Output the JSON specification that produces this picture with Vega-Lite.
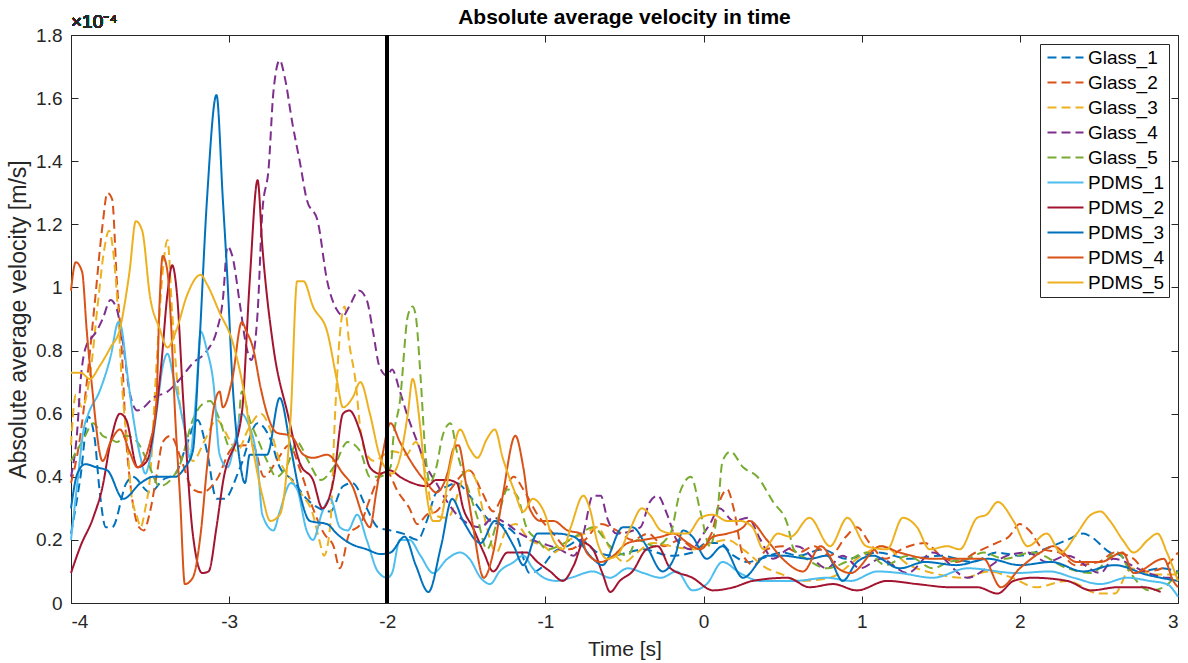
{
"$schema":"https://vega.github.io/schema/vega-lite/v6.json",
"width":1107,"height":568,
"autosize":{"type":"none"},
"padding":{"left":71,"top":35,"right":10,"bottom":60},
"background":"white",
"title":{"text":"Absolute average velocity in time","fontSize":21,"fontWeight":"bold","color":"#000000","font":"Liberation Sans","offset":8,"dy":23},
"config":{"font":"Liberation Sans","view":{"stroke":"#262626","strokeWidth":1},
"axis":{"grid":false,"domainColor":"#262626","domainWidth":1,"tickColor":"#262626","tickWidth":1,"tickSize":-7,"labelColor":"#262626","labelFontSize":19,"labelFont":"Liberation Sans","titleFont":"Liberation Sans","titleFontSize":21,"titleFontWeight":"normal","titleColor":"#262626"}},
"datasets":{"d":[
{"series":"Glass_1","t":-4.0,"v":0.22},{"series":"Glass_1","t":-3.94,"v":0.40},{"series":"Glass_1","t":-3.89,"v":0.59},{"series":"Glass_1","t":-3.85,"v":0.52},{"series":"Glass_1","t":-3.82,"v":0.36},{"series":"Glass_1","t":-3.78,"v":0.24},{"series":"Glass_1","t":-3.74,"v":0.24},{"series":"Glass_1","t":-3.65,"v":0.38},{"series":"Glass_1","t":-3.61,"v":0.40},{"series":"Glass_1","t":-3.5,"v":0.35},{"series":"Glass_1","t":-3.42,"v":0.39},{"series":"Glass_1","t":-3.34,"v":0.41},{"series":"Glass_1","t":-3.27,"v":0.50},{"series":"Glass_1","t":-3.2,"v":0.58},{"series":"Glass_1","t":-3.14,"v":0.48},{"series":"Glass_1","t":-3.08,"v":0.33},{"series":"Glass_1","t":-3.03,"v":0.33},{"series":"Glass_1","t":-2.93,"v":0.43},{"series":"Glass_1","t":-2.82,"v":0.57},{"series":"Glass_1","t":-2.74,"v":0.52},{"series":"Glass_1","t":-2.68,"v":0.43},{"series":"Glass_1","t":-2.6,"v":0.39},{"series":"Glass_1","t":-2.51,"v":0.33},{"series":"Glass_1","t":-2.43,"v":0.30},{"series":"Glass_1","t":-2.36,"v":0.29},{"series":"Glass_1","t":-2.28,"v":0.37},{"series":"Glass_1","t":-2.22,"v":0.38},{"series":"Glass_1","t":-2.13,"v":0.30},{"series":"Glass_1","t":-2.06,"v":0.24},{"series":"Glass_1","t":-1.98,"v":0.23},{"series":"Glass_1","t":-1.9,"v":0.22},{"series":"Glass_1","t":-1.81,"v":0.20},{"series":"Glass_1","t":-1.75,"v":0.26},{"series":"Glass_1","t":-1.69,"v":0.35},{"series":"Glass_1","t":-1.62,"v":0.37},{"series":"Glass_1","t":-1.56,"v":0.38},{"series":"Glass_1","t":-1.48,"v":0.34},{"series":"Glass_1","t":-1.35,"v":0.26},{"series":"Glass_1","t":-1.24,"v":0.24},{"series":"Glass_1","t":-1.18,"v":0.21},{"series":"Glass_1","t":-1.1,"v":0.095},{"series":"Glass_1","t":-1.03,"v":0.11},{"series":"Glass_1","t":-0.95,"v":0.16},{"series":"Glass_1","t":-0.86,"v":0.18},{"series":"Glass_1","t":-0.78,"v":0.20},{"series":"Glass_1","t":-0.67,"v":0.16},{"series":"Glass_1","t":-0.57,"v":0.15},{"series":"Glass_1","t":-0.48,"v":0.16},{"series":"Glass_1","t":-0.38,"v":0.17},{"series":"Glass_1","t":-0.21,"v":0.15},{"series":"Glass_1","t":-0.07,"v":0.16},{"series":"Glass_1","t":0.02,"v":0.19},{"series":"Glass_1","t":0.1,"v":0.19},{"series":"Glass_1","t":0.19,"v":0.15},{"series":"Glass_1","t":0.28,"v":0.13},{"series":"Glass_1","t":0.36,"v":0.14},{"series":"Glass_1","t":0.5,"v":0.16},{"series":"Glass_1","t":0.6,"v":0.15},{"series":"Glass_1","t":0.75,"v":0.17},{"series":"Glass_1","t":0.9,"v":0.14},{"series":"Glass_1","t":1.1,"v":0.16},{"series":"Glass_1","t":1.3,"v":0.14},{"series":"Glass_1","t":1.5,"v":0.15},{"series":"Glass_1","t":1.7,"v":0.13},{"series":"Glass_1","t":1.85,"v":0.16},{"series":"Glass_1","t":2.0,"v":0.15},{"series":"Glass_1","t":2.15,"v":0.17},{"series":"Glass_1","t":2.3,"v":0.20},{"series":"Glass_1","t":2.4,"v":0.22},{"series":"Glass_1","t":2.45,"v":0.21},{"series":"Glass_1","t":2.57,"v":0.16},{"series":"Glass_1","t":2.64,"v":0.15},{"series":"Glass_1","t":2.72,"v":0.095},{"series":"Glass_1","t":2.89,"v":0.11},{"series":"Glass_1","t":3.0,"v":0.10},
{"series":"Glass_2","t":-4.0,"v":0.38},{"series":"Glass_2","t":-3.95,"v":0.50},{"series":"Glass_2","t":-3.9,"v":0.70},{"series":"Glass_2","t":-3.85,"v":0.95},{"series":"Glass_2","t":-3.8,"v":1.20},{"series":"Glass_2","t":-3.77,"v":1.30},{"series":"Glass_2","t":-3.74,"v":1.28},{"series":"Glass_2","t":-3.71,"v":1.02},{"series":"Glass_2","t":-3.68,"v":0.81},{"series":"Glass_2","t":-3.65,"v":0.51},{"series":"Glass_2","t":-3.63,"v":0.40},{"series":"Glass_2","t":-3.57,"v":0.24},{"series":"Glass_2","t":-3.54,"v":0.23},{"series":"Glass_2","t":-3.5,"v":0.29},{"series":"Glass_2","t":-3.46,"v":0.40},{"series":"Glass_2","t":-3.42,"v":0.51},{"series":"Glass_2","t":-3.37,"v":0.53},{"series":"Glass_2","t":-3.3,"v":0.45},{"series":"Glass_2","t":-3.23,"v":0.36},{"series":"Glass_2","t":-3.17,"v":0.35},{"series":"Glass_2","t":-3.08,"v":0.39},{"series":"Glass_2","t":-2.98,"v":0.49},{"series":"Glass_2","t":-2.9,"v":0.50},{"series":"Glass_2","t":-2.85,"v":0.50},{"series":"Glass_2","t":-2.78,"v":0.40},{"series":"Glass_2","t":-2.7,"v":0.45},{"series":"Glass_2","t":-2.62,"v":0.50},{"series":"Glass_2","t":-2.55,"v":0.42},{"series":"Glass_2","t":-2.47,"v":0.30},{"series":"Glass_2","t":-2.4,"v":0.22},{"series":"Glass_2","t":-2.34,"v":0.18},{"series":"Glass_2","t":-2.3,"v":0.11},{"series":"Glass_2","t":-2.24,"v":0.22},{"series":"Glass_2","t":-2.17,"v":0.25},{"series":"Glass_2","t":-2.11,"v":0.33},{"series":"Glass_2","t":-2.05,"v":0.40},{"series":"Glass_2","t":-2.01,"v":0.42},{"series":"Glass_2","t":-1.93,"v":0.35},{"series":"Glass_2","t":-1.86,"v":0.30},{"series":"Glass_2","t":-1.81,"v":0.25},{"series":"Glass_2","t":-1.75,"v":0.28},{"series":"Glass_2","t":-1.69,"v":0.29},{"series":"Glass_2","t":-1.6,"v":0.36},{"series":"Glass_2","t":-1.48,"v":0.42},{"series":"Glass_2","t":-1.4,"v":0.35},{"series":"Glass_2","t":-1.33,"v":0.29},{"series":"Glass_2","t":-1.28,"v":0.33},{"series":"Glass_2","t":-1.2,"v":0.40},{"series":"Glass_2","t":-1.14,"v":0.36},{"series":"Glass_2","t":-1.05,"v":0.28},{"series":"Glass_2","t":-0.95,"v":0.22},{"series":"Glass_2","t":-0.85,"v":0.17},{"series":"Glass_2","t":-0.75,"v":0.20},{"series":"Glass_2","t":-0.65,"v":0.25},{"series":"Glass_2","t":-0.55,"v":0.23},{"series":"Glass_2","t":-0.45,"v":0.20},{"series":"Glass_2","t":-0.35,"v":0.22},{"series":"Glass_2","t":-0.25,"v":0.18},{"series":"Glass_2","t":-0.15,"v":0.20},{"series":"Glass_2","t":-0.05,"v":0.17},{"series":"Glass_2","t":0.05,"v":0.22},{"series":"Glass_2","t":0.1,"v":0.32},{"series":"Glass_2","t":0.15,"v":0.36},{"series":"Glass_2","t":0.19,"v":0.30},{"series":"Glass_2","t":0.25,"v":0.15},{"series":"Glass_2","t":0.32,"v":0.12},{"series":"Glass_2","t":0.4,"v":0.17},{"series":"Glass_2","t":0.5,"v":0.18},{"series":"Glass_2","t":0.6,"v":0.16},{"series":"Glass_2","t":0.7,"v":0.18},{"series":"Glass_2","t":0.8,"v":0.15},{"series":"Glass_2","t":0.9,"v":0.21},{"series":"Glass_2","t":0.97,"v":0.24},{"series":"Glass_2","t":1.05,"v":0.19},{"series":"Glass_2","t":1.15,"v":0.14},{"series":"Glass_2","t":1.25,"v":0.17},{"series":"Glass_2","t":1.4,"v":0.19},{"series":"Glass_2","t":1.5,"v":0.15},{"series":"Glass_2","t":1.6,"v":0.13},{"series":"Glass_2","t":1.72,"v":0.16},{"series":"Glass_2","t":1.85,"v":0.19},{"series":"Glass_2","t":1.93,"v":0.21},{"series":"Glass_2","t":2.0,"v":0.25},{"series":"Glass_2","t":2.06,"v":0.23},{"series":"Glass_2","t":2.15,"v":0.17},{"series":"Glass_2","t":2.25,"v":0.16},{"series":"Glass_2","t":2.35,"v":0.12},{"series":"Glass_2","t":2.5,"v":0.13},{"series":"Glass_2","t":2.6,"v":0.16},{"series":"Glass_2","t":2.72,"v":0.14},{"series":"Glass_2","t":2.8,"v":0.10},{"series":"Glass_2","t":2.9,"v":0.11},{"series":"Glass_2","t":3.0,"v":0.16},
{"series":"Glass_3","t":-4.0,"v":0.50},{"series":"Glass_3","t":-3.97,"v":0.66},{"series":"Glass_3","t":-3.93,"v":0.62},{"series":"Glass_3","t":-3.88,"v":0.72},{"series":"Glass_3","t":-3.83,"v":0.95},{"series":"Glass_3","t":-3.79,"v":1.12},{"series":"Glass_3","t":-3.76,"v":1.18},{"series":"Glass_3","t":-3.73,"v":1.10},{"series":"Glass_3","t":-3.7,"v":0.90},{"series":"Glass_3","t":-3.68,"v":0.71},{"series":"Glass_3","t":-3.64,"v":0.48},{"series":"Glass_3","t":-3.62,"v":0.35},{"series":"Glass_3","t":-3.58,"v":0.27},{"series":"Glass_3","t":-3.56,"v":0.24},{"series":"Glass_3","t":-3.53,"v":0.30},{"series":"Glass_3","t":-3.5,"v":0.40},{"series":"Glass_3","t":-3.46,"v":0.75},{"series":"Glass_3","t":-3.42,"v":1.05},{"series":"Glass_3","t":-3.39,"v":1.15},{"series":"Glass_3","t":-3.36,"v":0.92},{"series":"Glass_3","t":-3.33,"v":0.71},{"series":"Glass_3","t":-3.28,"v":0.55},{"series":"Glass_3","t":-3.23,"v":0.45},{"series":"Glass_3","t":-3.15,"v":0.52},{"series":"Glass_3","t":-3.08,"v":0.58},{"series":"Glass_3","t":-3.0,"v":0.52},{"series":"Glass_3","t":-2.95,"v":0.48},{"series":"Glass_3","t":-2.88,"v":0.55},{"series":"Glass_3","t":-2.8,"v":0.60},{"series":"Glass_3","t":-2.74,"v":0.55},{"series":"Glass_3","t":-2.68,"v":0.45},{"series":"Glass_3","t":-2.62,"v":0.40},{"series":"Glass_3","t":-2.55,"v":0.35},{"series":"Glass_3","t":-2.47,"v":0.28},{"series":"Glass_3","t":-2.43,"v":0.20},{"series":"Glass_3","t":-2.4,"v":0.15},{"series":"Glass_3","t":-2.36,"v":0.25},{"series":"Glass_3","t":-2.33,"v":0.60},{"series":"Glass_3","t":-2.3,"v":0.85},{"series":"Glass_3","t":-2.27,"v":0.94},{"series":"Glass_3","t":-2.24,"v":0.82},{"series":"Glass_3","t":-2.2,"v":0.70},{"series":"Glass_3","t":-2.17,"v":0.55},{"series":"Glass_3","t":-2.13,"v":0.47},{"series":"Glass_3","t":-2.08,"v":0.45},{"series":"Glass_3","t":-2.02,"v":0.47},{"series":"Glass_3","t":-1.96,"v":0.48},{"series":"Glass_3","t":-1.88,"v":0.47},{"series":"Glass_3","t":-1.82,"v":0.51},{"series":"Glass_3","t":-1.75,"v":0.39},{"series":"Glass_3","t":-1.71,"v":0.28},{"series":"Glass_3","t":-1.62,"v":0.27},{"series":"Glass_3","t":-1.49,"v":0.42},{"series":"Glass_3","t":-1.44,"v":0.39},{"series":"Glass_3","t":-1.39,"v":0.28},{"series":"Glass_3","t":-1.31,"v":0.16},{"series":"Glass_3","t":-1.25,"v":0.23},{"series":"Glass_3","t":-1.19,"v":0.25},{"series":"Glass_3","t":-1.1,"v":0.20},{"series":"Glass_3","t":-1.01,"v":0.18},{"series":"Glass_3","t":-0.95,"v":0.16},{"series":"Glass_3","t":-0.85,"v":0.20},{"series":"Glass_3","t":-0.75,"v":0.22},{"series":"Glass_3","t":-0.67,"v":0.24},{"series":"Glass_3","t":-0.6,"v":0.18},{"series":"Glass_3","t":-0.5,"v":0.13},{"series":"Glass_3","t":-0.42,"v":0.16},{"series":"Glass_3","t":-0.32,"v":0.19},{"series":"Glass_3","t":-0.2,"v":0.18},{"series":"Glass_3","t":-0.07,"v":0.17},{"series":"Glass_3","t":0.05,"v":0.19},{"series":"Glass_3","t":0.15,"v":0.20},{"series":"Glass_3","t":0.25,"v":0.17},{"series":"Glass_3","t":0.4,"v":0.11},{"series":"Glass_3","t":0.5,"v":0.09},{"series":"Glass_3","t":0.6,"v":0.07},{"series":"Glass_3","t":0.8,"v":0.08},{"series":"Glass_3","t":1.0,"v":0.15},{"series":"Glass_3","t":1.13,"v":0.18},{"series":"Glass_3","t":1.3,"v":0.12},{"series":"Glass_3","t":1.45,"v":0.095},{"series":"Glass_3","t":1.65,"v":0.08},{"series":"Glass_3","t":1.8,"v":0.10},{"series":"Glass_3","t":1.95,"v":0.08},{"series":"Glass_3","t":2.1,"v":0.05},{"series":"Glass_3","t":2.3,"v":0.07},{"series":"Glass_3","t":2.5,"v":0.03},{"series":"Glass_3","t":2.6,"v":0.03},{"series":"Glass_3","t":2.7,"v":0.11},{"series":"Glass_3","t":2.85,"v":0.09},{"series":"Glass_3","t":3.0,"v":0.09},
{"series":"Glass_4","t":-4.0,"v":0.40},{"series":"Glass_4","t":-3.96,"v":0.55},{"series":"Glass_4","t":-3.94,"v":0.70},{"series":"Glass_4","t":-3.9,"v":0.82},{"series":"Glass_4","t":-3.87,"v":0.84},{"series":"Glass_4","t":-3.84,"v":0.86},{"series":"Glass_4","t":-3.8,"v":0.90},{"series":"Glass_4","t":-3.75,"v":0.96},{"series":"Glass_4","t":-3.71,"v":0.93},{"series":"Glass_4","t":-3.67,"v":0.82},{"series":"Glass_4","t":-3.63,"v":0.67},{"series":"Glass_4","t":-3.58,"v":0.61},{"series":"Glass_4","t":-3.54,"v":0.62},{"series":"Glass_4","t":-3.48,"v":0.65},{"series":"Glass_4","t":-3.39,"v":0.67},{"series":"Glass_4","t":-3.31,"v":0.71},{"series":"Glass_4","t":-3.23,"v":0.76},{"series":"Glass_4","t":-3.14,"v":0.80},{"series":"Glass_4","t":-3.08,"v":0.86},{"series":"Glass_4","t":-3.04,"v":0.96},{"series":"Glass_4","t":-3.01,"v":1.13},{"series":"Glass_4","t":-2.98,"v":1.10},{"series":"Glass_4","t":-2.93,"v":0.94},{"series":"Glass_4","t":-2.89,"v":0.81},{"series":"Glass_4","t":-2.86,"v":0.77},{"series":"Glass_4","t":-2.82,"v":0.92},{"series":"Glass_4","t":-2.79,"v":1.24},{"series":"Glass_4","t":-2.75,"v":1.38},{"series":"Glass_4","t":-2.72,"v":1.62},{"series":"Glass_4","t":-2.68,"v":1.72},{"series":"Glass_4","t":-2.65,"v":1.67},{"series":"Glass_4","t":-2.6,"v":1.52},{"series":"Glass_4","t":-2.55,"v":1.39},{"series":"Glass_4","t":-2.51,"v":1.28},{"series":"Glass_4","t":-2.44,"v":1.21},{"series":"Glass_4","t":-2.38,"v":1.02},{"series":"Glass_4","t":-2.32,"v":0.93},{"series":"Glass_4","t":-2.28,"v":0.91},{"series":"Glass_4","t":-2.24,"v":0.94},{"series":"Glass_4","t":-2.18,"v":0.99},{"series":"Glass_4","t":-2.13,"v":0.96},{"series":"Glass_4","t":-2.09,"v":0.86},{"series":"Glass_4","t":-2.05,"v":0.75},{"series":"Glass_4","t":-2.0,"v":0.72},{"series":"Glass_4","t":-1.97,"v":0.74},{"series":"Glass_4","t":-1.92,"v":0.67},{"series":"Glass_4","t":-1.87,"v":0.59},{"series":"Glass_4","t":-1.81,"v":0.51},{"series":"Glass_4","t":-1.75,"v":0.43},{"series":"Glass_4","t":-1.69,"v":0.38},{"series":"Glass_4","t":-1.62,"v":0.32},{"series":"Glass_4","t":-1.56,"v":0.28},{"series":"Glass_4","t":-1.41,"v":0.24},{"series":"Glass_4","t":-1.33,"v":0.27},{"series":"Glass_4","t":-1.24,"v":0.25},{"series":"Glass_4","t":-1.16,"v":0.22},{"series":"Glass_4","t":-1.08,"v":0.20},{"series":"Glass_4","t":-0.91,"v":0.17},{"series":"Glass_4","t":-0.82,"v":0.15},{"series":"Glass_4","t":-0.76,"v":0.22},{"series":"Glass_4","t":-0.7,"v":0.34},{"series":"Glass_4","t":-0.65,"v":0.34},{"series":"Glass_4","t":-0.61,"v":0.27},{"series":"Glass_4","t":-0.55,"v":0.22},{"series":"Glass_4","t":-0.4,"v":0.24},{"series":"Glass_4","t":-0.34,"v":0.32},{"series":"Glass_4","t":-0.29,"v":0.34},{"series":"Glass_4","t":-0.23,"v":0.28},{"series":"Glass_4","t":-0.17,"v":0.20},{"series":"Glass_4","t":-0.08,"v":0.17},{"series":"Glass_4","t":0.0,"v":0.22},{"series":"Glass_4","t":0.04,"v":0.25},{"series":"Glass_4","t":0.1,"v":0.30},{"series":"Glass_4","t":0.19,"v":0.26},{"series":"Glass_4","t":0.28,"v":0.27},{"series":"Glass_4","t":0.36,"v":0.20},{"series":"Glass_4","t":0.44,"v":0.14},{"series":"Glass_4","t":0.53,"v":0.17},{"series":"Glass_4","t":0.59,"v":0.18},{"series":"Glass_4","t":0.78,"v":0.11},{"series":"Glass_4","t":0.88,"v":0.15},{"series":"Glass_4","t":0.99,"v":0.11},{"series":"Glass_4","t":1.12,"v":0.14},{"series":"Glass_4","t":1.29,"v":0.095},{"series":"Glass_4","t":1.45,"v":0.16},{"series":"Glass_4","t":1.67,"v":0.08},{"series":"Glass_4","t":1.79,"v":0.11},{"series":"Glass_4","t":1.92,"v":0.15},{"series":"Glass_4","t":2.05,"v":0.16},{"series":"Glass_4","t":2.17,"v":0.13},{"series":"Glass_4","t":2.3,"v":0.15},{"series":"Glass_4","t":2.51,"v":0.095},{"series":"Glass_4","t":2.59,"v":0.14},{"series":"Glass_4","t":2.81,"v":0.095},{"series":"Glass_4","t":2.93,"v":0.08},{"series":"Glass_4","t":3.0,"v":0.08},
{"series":"Glass_5","t":-4.0,"v":0.45},{"series":"Glass_5","t":-3.92,"v":0.52},{"series":"Glass_5","t":-3.86,"v":0.57},{"series":"Glass_5","t":-3.8,"v":0.53},{"series":"Glass_5","t":-3.75,"v":0.52},{"series":"Glass_5","t":-3.71,"v":0.51},{"series":"Glass_5","t":-3.65,"v":0.53},{"series":"Glass_5","t":-3.58,"v":0.51},{"series":"Glass_5","t":-3.51,"v":0.44},{"series":"Glass_5","t":-3.44,"v":0.37},{"series":"Glass_5","t":-3.37,"v":0.39},{"series":"Glass_5","t":-3.31,"v":0.44},{"series":"Glass_5","t":-3.23,"v":0.58},{"series":"Glass_5","t":-3.17,"v":0.63},{"series":"Glass_5","t":-3.12,"v":0.64},{"series":"Glass_5","t":-3.06,"v":0.58},{"series":"Glass_5","t":-2.99,"v":0.49},{"series":"Glass_5","t":-2.95,"v":0.52},{"series":"Glass_5","t":-2.92,"v":0.67},{"series":"Glass_5","t":-2.87,"v":0.58},{"series":"Glass_5","t":-2.82,"v":0.52},{"series":"Glass_5","t":-2.76,"v":0.45},{"series":"Glass_5","t":-2.7,"v":0.40},{"series":"Glass_5","t":-2.63,"v":0.44},{"series":"Glass_5","t":-2.57,"v":0.51},{"series":"Glass_5","t":-2.5,"v":0.45},{"series":"Glass_5","t":-2.42,"v":0.39},{"series":"Glass_5","t":-2.34,"v":0.43},{"series":"Glass_5","t":-2.25,"v":0.51},{"series":"Glass_5","t":-2.17,"v":0.48},{"series":"Glass_5","t":-2.11,"v":0.40},{"series":"Glass_5","t":-2.05,"v":0.40},{"series":"Glass_5","t":-1.98,"v":0.43},{"series":"Glass_5","t":-1.96,"v":0.53},{"series":"Glass_5","t":-1.92,"v":0.64},{"series":"Glass_5","t":-1.87,"v":0.91},{"series":"Glass_5","t":-1.84,"v":0.94},{"series":"Glass_5","t":-1.82,"v":0.91},{"series":"Glass_5","t":-1.79,"v":0.72},{"series":"Glass_5","t":-1.76,"v":0.48},{"series":"Glass_5","t":-1.73,"v":0.38},{"series":"Glass_5","t":-1.69,"v":0.43},{"series":"Glass_5","t":-1.65,"v":0.53},{"series":"Glass_5","t":-1.6,"v":0.57},{"series":"Glass_5","t":-1.56,"v":0.48},{"series":"Glass_5","t":-1.5,"v":0.38},{"series":"Glass_5","t":-1.43,"v":0.27},{"series":"Glass_5","t":-1.37,"v":0.17},{"series":"Glass_5","t":-1.31,"v":0.25},{"series":"Glass_5","t":-1.24,"v":0.36},{"series":"Glass_5","t":-1.18,"v":0.34},{"series":"Glass_5","t":-1.12,"v":0.24},{"series":"Glass_5","t":-1.05,"v":0.20},{"series":"Glass_5","t":-0.99,"v":0.17},{"series":"Glass_5","t":-0.88,"v":0.19},{"series":"Glass_5","t":-0.78,"v":0.22},{"series":"Glass_5","t":-0.7,"v":0.24},{"series":"Glass_5","t":-0.59,"v":0.18},{"series":"Glass_5","t":-0.48,"v":0.15},{"series":"Glass_5","t":-0.42,"v":0.20},{"series":"Glass_5","t":-0.31,"v":0.18},{"series":"Glass_5","t":-0.21,"v":0.22},{"series":"Glass_5","t":-0.15,"v":0.35},{"series":"Glass_5","t":-0.08,"v":0.40},{"series":"Glass_5","t":-0.02,"v":0.29},{"series":"Glass_5","t":0.04,"v":0.18},{"series":"Glass_5","t":0.09,"v":0.30},{"series":"Glass_5","t":0.12,"v":0.45},{"series":"Glass_5","t":0.17,"v":0.48},{"series":"Glass_5","t":0.25,"v":0.43},{"series":"Glass_5","t":0.34,"v":0.40},{"series":"Glass_5","t":0.44,"v":0.32},{"series":"Glass_5","t":0.53,"v":0.25},{"series":"Glass_5","t":0.57,"v":0.17},{"series":"Glass_5","t":0.65,"v":0.14},{"series":"Glass_5","t":0.78,"v":0.11},{"series":"Glass_5","t":0.9,"v":0.13},{"series":"Glass_5","t":1.03,"v":0.16},{"series":"Glass_5","t":1.15,"v":0.12},{"series":"Glass_5","t":1.29,"v":0.15},{"series":"Glass_5","t":1.45,"v":0.11},{"series":"Glass_5","t":1.55,"v":0.13},{"series":"Glass_5","t":1.67,"v":0.14},{"series":"Glass_5","t":1.77,"v":0.16},{"series":"Glass_5","t":1.9,"v":0.14},{"series":"Glass_5","t":2.08,"v":0.16},{"series":"Glass_5","t":2.3,"v":0.11},{"series":"Glass_5","t":2.45,"v":0.095},{"series":"Glass_5","t":2.62,"v":0.16},{"series":"Glass_5","t":2.7,"v":0.095},{"series":"Glass_5","t":2.82,"v":0.04},{"series":"Glass_5","t":2.91,"v":0.05},{"series":"Glass_5","t":3.0,"v":0.10},
{"series":"PDMS_1","t":-4.0,"v":0.20},{"series":"PDMS_1","t":-3.96,"v":0.38},{"series":"PDMS_1","t":-3.92,"v":0.55},{"series":"PDMS_1","t":-3.89,"v":0.60},{"series":"PDMS_1","t":-3.82,"v":0.67},{"series":"PDMS_1","t":-3.75,"v":0.78},{"series":"PDMS_1","t":-3.7,"v":0.89},{"series":"PDMS_1","t":-3.68,"v":0.87},{"series":"PDMS_1","t":-3.65,"v":0.75},{"series":"PDMS_1","t":-3.61,"v":0.60},{"series":"PDMS_1","t":-3.56,"v":0.46},{"series":"PDMS_1","t":-3.53,"v":0.41},{"series":"PDMS_1","t":-3.5,"v":0.46},{"series":"PDMS_1","t":-3.46,"v":0.60},{"series":"PDMS_1","t":-3.42,"v":0.75},{"series":"PDMS_1","t":-3.39,"v":0.79},{"series":"PDMS_1","t":-3.35,"v":0.71},{"series":"PDMS_1","t":-3.31,"v":0.62},{"series":"PDMS_1","t":-3.27,"v":0.52},{"series":"PDMS_1","t":-3.25,"v":0.46},{"series":"PDMS_1","t":-3.21,"v":0.65},{"series":"PDMS_1","t":-3.18,"v":0.86},{"series":"PDMS_1","t":-3.14,"v":0.80},{"series":"PDMS_1","t":-3.1,"v":0.70},{"series":"PDMS_1","t":-3.06,"v":0.47},{"series":"PDMS_1","t":-3.01,"v":0.43},{"series":"PDMS_1","t":-2.96,"v":0.52},{"series":"PDMS_1","t":-2.92,"v":0.60},{"series":"PDMS_1","t":-2.89,"v":0.58},{"series":"PDMS_1","t":-2.82,"v":0.44},{"series":"PDMS_1","t":-2.79,"v":0.28},{"series":"PDMS_1","t":-2.72,"v":0.23},{"series":"PDMS_1","t":-2.68,"v":0.29},{"series":"PDMS_1","t":-2.61,"v":0.38},{"series":"PDMS_1","t":-2.57,"v":0.36},{"series":"PDMS_1","t":-2.51,"v":0.23},{"series":"PDMS_1","t":-2.47,"v":0.20},{"series":"PDMS_1","t":-2.41,"v":0.29},{"series":"PDMS_1","t":-2.36,"v":0.33},{"series":"PDMS_1","t":-2.3,"v":0.24},{"series":"PDMS_1","t":-2.25,"v":0.23},{"series":"PDMS_1","t":-2.19,"v":0.28},{"series":"PDMS_1","t":-2.13,"v":0.20},{"series":"PDMS_1","t":-2.06,"v":0.10},{"series":"PDMS_1","t":-2.0,"v":0.08},{"series":"PDMS_1","t":-1.97,"v":0.095},{"series":"PDMS_1","t":-1.92,"v":0.20},{"series":"PDMS_1","t":-1.86,"v":0.20},{"series":"PDMS_1","t":-1.79,"v":0.15},{"series":"PDMS_1","t":-1.71,"v":0.095},{"series":"PDMS_1","t":-1.62,"v":0.14},{"series":"PDMS_1","t":-1.54,"v":0.16},{"series":"PDMS_1","t":-1.48,"v":0.14},{"series":"PDMS_1","t":-1.41,"v":0.08},{"series":"PDMS_1","t":-1.35,"v":0.06},{"series":"PDMS_1","t":-1.29,"v":0.10},{"series":"PDMS_1","t":-1.2,"v":0.13},{"series":"PDMS_1","t":-1.14,"v":0.15},{"series":"PDMS_1","t":-1.08,"v":0.11},{"series":"PDMS_1","t":-1.01,"v":0.08},{"series":"PDMS_1","t":-0.93,"v":0.07},{"series":"PDMS_1","t":-0.84,"v":0.08},{"series":"PDMS_1","t":-0.7,"v":0.10},{"series":"PDMS_1","t":-0.59,"v":0.08},{"series":"PDMS_1","t":-0.48,"v":0.11},{"series":"PDMS_1","t":-0.38,"v":0.095},{"series":"PDMS_1","t":-0.27,"v":0.08},{"series":"PDMS_1","t":-0.17,"v":0.10},{"series":"PDMS_1","t":-0.07,"v":0.04},{"series":"PDMS_1","t":0.02,"v":0.06},{"series":"PDMS_1","t":0.12,"v":0.13},{"series":"PDMS_1","t":0.23,"v":0.095},{"series":"PDMS_1","t":0.36,"v":0.07},{"series":"PDMS_1","t":0.57,"v":0.07},{"series":"PDMS_1","t":0.78,"v":0.08},{"series":"PDMS_1","t":0.93,"v":0.07},{"series":"PDMS_1","t":1.1,"v":0.10},{"series":"PDMS_1","t":1.24,"v":0.095},{"series":"PDMS_1","t":1.45,"v":0.08},{"series":"PDMS_1","t":1.67,"v":0.11},{"series":"PDMS_1","t":1.98,"v":0.095},{"series":"PDMS_1","t":2.19,"v":0.10},{"series":"PDMS_1","t":2.34,"v":0.08},{"series":"PDMS_1","t":2.51,"v":0.06},{"series":"PDMS_1","t":2.68,"v":0.08},{"series":"PDMS_1","t":2.82,"v":0.07},{"series":"PDMS_1","t":2.93,"v":0.06},{"series":"PDMS_1","t":3.0,"v":0.02},
{"series":"PDMS_2","t":-4.0,"v":0.095},{"series":"PDMS_2","t":-3.94,"v":0.18},{"series":"PDMS_2","t":-3.86,"v":0.27},{"series":"PDMS_2","t":-3.8,"v":0.37},{"series":"PDMS_2","t":-3.75,"v":0.51},{"series":"PDMS_2","t":-3.69,"v":0.60},{"series":"PDMS_2","t":-3.65,"v":0.58},{"series":"PDMS_2","t":-3.58,"v":0.43},{"series":"PDMS_2","t":-3.52,"v":0.45},{"series":"PDMS_2","t":-3.48,"v":0.54},{"series":"PDMS_2","t":-3.43,"v":0.75},{"series":"PDMS_2","t":-3.39,"v":0.98},{"series":"PDMS_2","t":-3.36,"v":1.07},{"series":"PDMS_2","t":-3.33,"v":0.98},{"series":"PDMS_2","t":-3.29,"v":0.64},{"series":"PDMS_2","t":-3.23,"v":0.22},{"series":"PDMS_2","t":-3.17,"v":0.095},{"series":"PDMS_2","t":-3.13,"v":0.10},{"series":"PDMS_2","t":-3.08,"v":0.24},{"series":"PDMS_2","t":-3.04,"v":0.38},{"series":"PDMS_2","t":-2.92,"v":0.60},{"series":"PDMS_2","t":-2.87,"v":1.02},{"series":"PDMS_2","t":-2.82,"v":1.34},{"series":"PDMS_2","t":-2.79,"v":1.13},{"series":"PDMS_2","t":-2.72,"v":0.81},{"series":"PDMS_2","t":-2.63,"v":0.60},{"series":"PDMS_2","t":-2.55,"v":0.44},{"series":"PDMS_2","t":-2.47,"v":0.39},{"series":"PDMS_2","t":-2.41,"v":0.30},{"series":"PDMS_2","t":-2.34,"v":0.39},{"series":"PDMS_2","t":-2.28,"v":0.60},{"series":"PDMS_2","t":-2.24,"v":0.61},{"series":"PDMS_2","t":-2.17,"v":0.54},{"series":"PDMS_2","t":-2.11,"v":0.43},{"series":"PDMS_2","t":-2.05,"v":0.41},{"series":"PDMS_2","t":-1.98,"v":0.42},{"series":"PDMS_2","t":-1.92,"v":0.40},{"series":"PDMS_2","t":-1.84,"v":0.38},{"series":"PDMS_2","t":-1.75,"v":0.37},{"series":"PDMS_2","t":-1.69,"v":0.39},{"series":"PDMS_2","t":-1.62,"v":0.39},{"series":"PDMS_2","t":-1.56,"v":0.38},{"series":"PDMS_2","t":-1.52,"v":0.30},{"series":"PDMS_2","t":-1.46,"v":0.24},{"series":"PDMS_2","t":-1.39,"v":0.16},{"series":"PDMS_2","t":-1.33,"v":0.10},{"series":"PDMS_2","t":-1.24,"v":0.16},{"series":"PDMS_2","t":-1.18,"v":0.16},{"series":"PDMS_2","t":-1.12,"v":0.16},{"series":"PDMS_2","t":-1.05,"v":0.13},{"series":"PDMS_2","t":-0.97,"v":0.10},{"series":"PDMS_2","t":-0.89,"v":0.07},{"series":"PDMS_2","t":-0.82,"v":0.12},{"series":"PDMS_2","t":-0.76,"v":0.19},{"series":"PDMS_2","t":-0.7,"v":0.17},{"series":"PDMS_2","t":-0.64,"v":0.095},{"series":"PDMS_2","t":-0.59,"v":0.035},{"series":"PDMS_2","t":-0.53,"v":0.07},{"series":"PDMS_2","t":-0.45,"v":0.10},{"series":"PDMS_2","t":-0.36,"v":0.17},{"series":"PDMS_2","t":-0.29,"v":0.18},{"series":"PDMS_2","t":-0.21,"v":0.11},{"series":"PDMS_2","t":-0.07,"v":0.08},{"series":"PDMS_2","t":0.06,"v":0.04},{"series":"PDMS_2","t":0.19,"v":0.05},{"series":"PDMS_2","t":0.31,"v":0.07},{"series":"PDMS_2","t":0.53,"v":0.08},{"series":"PDMS_2","t":0.67,"v":0.05},{"series":"PDMS_2","t":0.82,"v":0.06},{"series":"PDMS_2","t":0.97,"v":0.04},{"series":"PDMS_2","t":1.16,"v":0.07},{"series":"PDMS_2","t":1.35,"v":0.06},{"series":"PDMS_2","t":1.56,"v":0.05},{"series":"PDMS_2","t":1.73,"v":0.05},{"series":"PDMS_2","t":1.86,"v":0.03},{"series":"PDMS_2","t":1.96,"v":0.07},{"series":"PDMS_2","t":2.08,"v":0.08},{"series":"PDMS_2","t":2.3,"v":0.07},{"series":"PDMS_2","t":2.45,"v":0.04},{"series":"PDMS_2","t":2.62,"v":0.05},{"series":"PDMS_2","t":2.78,"v":0.05},{"series":"PDMS_2","t":2.89,"v":0.035},
{"series":"PDMS_3","t":-4.0,"v":0.30},{"series":"PDMS_3","t":-3.96,"v":0.41},{"series":"PDMS_3","t":-3.91,"v":0.44},{"series":"PDMS_3","t":-3.84,"v":0.43},{"series":"PDMS_3","t":-3.77,"v":0.42},{"series":"PDMS_3","t":-3.67,"v":0.33},{"series":"PDMS_3","t":-3.56,"v":0.38},{"series":"PDMS_3","t":-3.48,"v":0.40},{"series":"PDMS_3","t":-3.34,"v":0.40},{"series":"PDMS_3","t":-3.28,"v":0.43},{"series":"PDMS_3","t":-3.23,"v":0.48},{"series":"PDMS_3","t":-3.19,"v":0.80},{"series":"PDMS_3","t":-3.14,"v":1.28},{"series":"PDMS_3","t":-3.08,"v":1.61},{"series":"PDMS_3","t":-3.04,"v":1.28},{"series":"PDMS_3","t":-3.01,"v":1.02},{"series":"PDMS_3","t":-2.98,"v":0.71},{"series":"PDMS_3","t":-2.93,"v":0.44},{"series":"PDMS_3","t":-2.9,"v":0.38},{"series":"PDMS_3","t":-2.87,"v":0.47},{"series":"PDMS_3","t":-2.76,"v":0.47},{"series":"PDMS_3","t":-2.68,"v":0.65},{"series":"PDMS_3","t":-2.61,"v":0.49},{"series":"PDMS_3","t":-2.55,"v":0.34},{"series":"PDMS_3","t":-2.49,"v":0.26},{"series":"PDMS_3","t":-2.38,"v":0.25},{"series":"PDMS_3","t":-2.32,"v":0.22},{"series":"PDMS_3","t":-2.24,"v":0.19},{"series":"PDMS_3","t":-2.13,"v":0.17},{"series":"PDMS_3","t":-2.04,"v":0.155},{"series":"PDMS_3","t":-1.98,"v":0.16},{"series":"PDMS_3","t":-1.89,"v":0.21},{"series":"PDMS_3","t":-1.82,"v":0.12},{"series":"PDMS_3","t":-1.74,"v":0.035},{"series":"PDMS_3","t":-1.66,"v":0.18},{"series":"PDMS_3","t":-1.59,"v":0.33},{"series":"PDMS_3","t":-1.52,"v":0.26},{"series":"PDMS_3","t":-1.41,"v":0.19},{"series":"PDMS_3","t":-1.32,"v":0.26},{"series":"PDMS_3","t":-1.2,"v":0.18},{"series":"PDMS_3","t":-1.14,"v":0.12},{"series":"PDMS_3","t":-1.05,"v":0.22},{"series":"PDMS_3","t":-0.93,"v":0.22},{"series":"PDMS_3","t":-0.82,"v":0.21},{"series":"PDMS_3","t":-0.7,"v":0.14},{"series":"PDMS_3","t":-0.64,"v":0.12},{"series":"PDMS_3","t":-0.51,"v":0.24},{"series":"PDMS_3","t":-0.45,"v":0.24},{"series":"PDMS_3","t":-0.36,"v":0.18},{"series":"PDMS_3","t":-0.26,"v":0.10},{"series":"PDMS_3","t":-0.18,"v":0.15},{"series":"PDMS_3","t":-0.13,"v":0.23},{"series":"PDMS_3","t":-0.07,"v":0.21},{"series":"PDMS_3","t":0.02,"v":0.14},{"series":"PDMS_3","t":0.12,"v":0.18},{"series":"PDMS_3","t":0.25,"v":0.08},{"series":"PDMS_3","t":0.4,"v":0.15},{"series":"PDMS_3","t":0.5,"v":0.15},{"series":"PDMS_3","t":0.67,"v":0.14},{"series":"PDMS_3","t":0.78,"v":0.15},{"series":"PDMS_3","t":0.88,"v":0.07},{"series":"PDMS_3","t":0.97,"v":0.13},{"series":"PDMS_3","t":1.07,"v":0.15},{"series":"PDMS_3","t":1.24,"v":0.11},{"series":"PDMS_3","t":1.4,"v":0.13},{"series":"PDMS_3","t":1.6,"v":0.12},{"series":"PDMS_3","t":1.8,"v":0.14},{"series":"PDMS_3","t":2.0,"v":0.12},{"series":"PDMS_3","t":2.2,"v":0.13},{"series":"PDMS_3","t":2.4,"v":0.10},{"series":"PDMS_3","t":2.6,"v":0.12},{"series":"PDMS_3","t":2.8,"v":0.09},{"series":"PDMS_3","t":3.0,"v":0.07},
{"series":"PDMS_4","t":-4.0,"v":0.99},{"series":"PDMS_4","t":-3.97,"v":1.08},{"series":"PDMS_4","t":-3.93,"v":1.05},{"series":"PDMS_4","t":-3.9,"v":0.86},{"series":"PDMS_4","t":-3.87,"v":0.70},{"series":"PDMS_4","t":-3.8,"v":0.45},{"series":"PDMS_4","t":-3.75,"v":0.51},{"series":"PDMS_4","t":-3.69,"v":0.55},{"series":"PDMS_4","t":-3.63,"v":0.48},{"series":"PDMS_4","t":-3.58,"v":0.43},{"series":"PDMS_4","t":-3.5,"v":0.51},{"series":"PDMS_4","t":-3.46,"v":0.64},{"series":"PDMS_4","t":-3.44,"v":0.95},{"series":"PDMS_4","t":-3.42,"v":1.10},{"series":"PDMS_4","t":-3.39,"v":1.05},{"series":"PDMS_4","t":-3.37,"v":0.91},{"series":"PDMS_4","t":-3.34,"v":0.58},{"series":"PDMS_4","t":-3.31,"v":0.33},{"series":"PDMS_4","t":-3.28,"v":0.06},{"series":"PDMS_4","t":-3.23,"v":0.08},{"series":"PDMS_4","t":-3.18,"v":0.22},{"series":"PDMS_4","t":-3.14,"v":0.43},{"series":"PDMS_4","t":-3.1,"v":0.61},{"series":"PDMS_4","t":-3.06,"v":0.67},{"series":"PDMS_4","t":-3.04,"v":0.62},{"series":"PDMS_4","t":-2.98,"v":0.71},{"series":"PDMS_4","t":-2.92,"v":0.89},{"series":"PDMS_4","t":-2.89,"v":0.86},{"series":"PDMS_4","t":-2.85,"v":0.81},{"series":"PDMS_4","t":-2.8,"v":0.68},{"series":"PDMS_4","t":-2.76,"v":0.60},{"series":"PDMS_4","t":-2.7,"v":0.54},{"series":"PDMS_4","t":-2.61,"v":0.53},{"series":"PDMS_4","t":-2.53,"v":0.47},{"series":"PDMS_4","t":-2.47,"v":0.46},{"series":"PDMS_4","t":-2.38,"v":0.47},{"series":"PDMS_4","t":-2.28,"v":0.41},{"series":"PDMS_4","t":-2.22,"v":0.37},{"series":"PDMS_4","t":-2.15,"v":0.27},{"series":"PDMS_4","t":-2.11,"v":0.24},{"series":"PDMS_4","t":-2.07,"v":0.35},{"series":"PDMS_4","t":-2.03,"v":0.47},{"series":"PDMS_4","t":-1.98,"v":0.57},{"series":"PDMS_4","t":-1.92,"v":0.51},{"series":"PDMS_4","t":-1.84,"v":0.44},{"series":"PDMS_4","t":-1.75,"v":0.38},{"series":"PDMS_4","t":-1.69,"v":0.35},{"series":"PDMS_4","t":-1.62,"v":0.41},{"series":"PDMS_4","t":-1.58,"v":0.49},{"series":"PDMS_4","t":-1.55,"v":0.50},{"series":"PDMS_4","t":-1.5,"v":0.37},{"series":"PDMS_4","t":-1.46,"v":0.25},{"series":"PDMS_4","t":-1.39,"v":0.08},{"series":"PDMS_4","t":-1.33,"v":0.16},{"series":"PDMS_4","t":-1.27,"v":0.34},{"series":"PDMS_4","t":-1.19,"v":0.53},{"series":"PDMS_4","t":-1.14,"v":0.43},{"series":"PDMS_4","t":-1.1,"v":0.30},{"series":"PDMS_4","t":-1.03,"v":0.26},{"series":"PDMS_4","t":-0.95,"v":0.26},{"series":"PDMS_4","t":-0.86,"v":0.23},{"series":"PDMS_4","t":-0.78,"v":0.22},{"series":"PDMS_4","t":-0.74,"v":0.16},{"series":"PDMS_4","t":-0.65,"v":0.13},{"series":"PDMS_4","t":-0.57,"v":0.15},{"series":"PDMS_4","t":-0.48,"v":0.19},{"series":"PDMS_4","t":-0.38,"v":0.20},{"series":"PDMS_4","t":-0.27,"v":0.21},{"series":"PDMS_4","t":-0.19,"v":0.22},{"series":"PDMS_4","t":-0.1,"v":0.19},{"series":"PDMS_4","t":-0.02,"v":0.17},{"series":"PDMS_4","t":0.06,"v":0.21},{"series":"PDMS_4","t":0.15,"v":0.22},{"series":"PDMS_4","t":0.25,"v":0.24},{"series":"PDMS_4","t":0.29,"v":0.26},{"series":"PDMS_4","t":0.4,"v":0.20},{"series":"PDMS_4","t":0.5,"v":0.14},{"series":"PDMS_4","t":0.63,"v":0.10},{"series":"PDMS_4","t":0.74,"v":0.18},{"series":"PDMS_4","t":0.85,"v":0.11},{"series":"PDMS_4","t":0.93,"v":0.095},{"series":"PDMS_4","t":1.12,"v":0.18},{"series":"PDMS_4","t":1.24,"v":0.16},{"series":"PDMS_4","t":1.45,"v":0.14},{"series":"PDMS_4","t":1.62,"v":0.14},{"series":"PDMS_4","t":1.77,"v":0.14},{"series":"PDMS_4","t":1.88,"v":0.05},{"series":"PDMS_4","t":2.0,"v":0.11},{"series":"PDMS_4","t":2.13,"v":0.16},{"series":"PDMS_4","t":2.21,"v":0.18},{"series":"PDMS_4","t":2.36,"v":0.13},{"series":"PDMS_4","t":2.51,"v":0.13},{"series":"PDMS_4","t":2.65,"v":0.16},{"series":"PDMS_4","t":2.72,"v":0.095},{"series":"PDMS_4","t":2.91,"v":0.14},{"series":"PDMS_4","t":2.97,"v":0.07},{"series":"PDMS_4","t":3.0,"v":0.05},
{"series":"PDMS_5","t":-4.0,"v":0.73},{"series":"PDMS_5","t":-3.94,"v":0.73},{"series":"PDMS_5","t":-3.88,"v":0.71},{"series":"PDMS_5","t":-3.82,"v":0.75},{"series":"PDMS_5","t":-3.75,"v":0.81},{"series":"PDMS_5","t":-3.69,"v":0.87},{"series":"PDMS_5","t":-3.66,"v":0.95},{"series":"PDMS_5","t":-3.63,"v":1.05},{"series":"PDMS_5","t":-3.59,"v":1.21},{"series":"PDMS_5","t":-3.55,"v":1.18},{"series":"PDMS_5","t":-3.5,"v":0.97},{"series":"PDMS_5","t":-3.44,"v":0.87},{"series":"PDMS_5","t":-3.39,"v":0.81},{"series":"PDMS_5","t":-3.33,"v":0.87},{"series":"PDMS_5","t":-3.27,"v":0.97},{"series":"PDMS_5","t":-3.18,"v":1.04},{"series":"PDMS_5","t":-3.14,"v":1.01},{"series":"PDMS_5","t":-3.06,"v":0.92},{"series":"PDMS_5","t":-2.98,"v":0.83},{"series":"PDMS_5","t":-2.91,"v":0.68},{"series":"PDMS_5","t":-2.85,"v":0.49},{"series":"PDMS_5","t":-2.79,"v":0.34},{"series":"PDMS_5","t":-2.74,"v":0.26},{"series":"PDMS_5","t":-2.68,"v":0.28},{"series":"PDMS_5","t":-2.61,"v":0.60},{"series":"PDMS_5","t":-2.57,"v":1.02},{"series":"PDMS_5","t":-2.53,"v":1.02},{"series":"PDMS_5","t":-2.47,"v":0.94},{"series":"PDMS_5","t":-2.38,"v":0.86},{"series":"PDMS_5","t":-2.32,"v":0.71},{"series":"PDMS_5","t":-2.28,"v":0.62},{"series":"PDMS_5","t":-2.22,"v":0.65},{"series":"PDMS_5","t":-2.17,"v":0.70},{"series":"PDMS_5","t":-2.11,"v":0.60},{"series":"PDMS_5","t":-2.05,"v":0.47},{"series":"PDMS_5","t":-2.0,"v":0.42},{"series":"PDMS_5","t":-1.97,"v":0.41},{"series":"PDMS_5","t":-1.92,"v":0.46},{"series":"PDMS_5","t":-1.87,"v":0.60},{"series":"PDMS_5","t":-1.84,"v":0.71},{"series":"PDMS_5","t":-1.79,"v":0.55},{"series":"PDMS_5","t":-1.75,"v":0.34},{"series":"PDMS_5","t":-1.71,"v":0.26},{"series":"PDMS_5","t":-1.67,"v":0.26},{"series":"PDMS_5","t":-1.6,"v":0.44},{"series":"PDMS_5","t":-1.54,"v":0.55},{"series":"PDMS_5","t":-1.48,"v":0.49},{"series":"PDMS_5","t":-1.43,"v":0.46},{"series":"PDMS_5","t":-1.37,"v":0.52},{"series":"PDMS_5","t":-1.32,"v":0.55},{"series":"PDMS_5","t":-1.27,"v":0.46},{"series":"PDMS_5","t":-1.2,"v":0.36},{"series":"PDMS_5","t":-1.14,"v":0.29},{"series":"PDMS_5","t":-1.08,"v":0.33},{"series":"PDMS_5","t":-1.01,"v":0.29},{"series":"PDMS_5","t":-0.95,"v":0.20},{"series":"PDMS_5","t":-0.89,"v":0.17},{"series":"PDMS_5","t":-0.84,"v":0.24},{"series":"PDMS_5","t":-0.76,"v":0.34},{"series":"PDMS_5","t":-0.72,"v":0.30},{"series":"PDMS_5","t":-0.67,"v":0.19},{"series":"PDMS_5","t":-0.61,"v":0.14},{"series":"PDMS_5","t":-0.55,"v":0.15},{"series":"PDMS_5","t":-0.46,"v":0.24},{"series":"PDMS_5","t":-0.39,"v":0.30},{"series":"PDMS_5","t":-0.34,"v":0.28},{"series":"PDMS_5","t":-0.27,"v":0.23},{"series":"PDMS_5","t":-0.19,"v":0.22},{"series":"PDMS_5","t":-0.1,"v":0.22},{"series":"PDMS_5","t":-0.02,"v":0.27},{"series":"PDMS_5","t":0.06,"v":0.28},{"series":"PDMS_5","t":0.15,"v":0.26},{"series":"PDMS_5","t":0.23,"v":0.26},{"series":"PDMS_5","t":0.31,"v":0.24},{"series":"PDMS_5","t":0.38,"v":0.17},{"series":"PDMS_5","t":0.47,"v":0.22},{"series":"PDMS_5","t":0.55,"v":0.21},{"series":"PDMS_5","t":0.67,"v":0.27},{"series":"PDMS_5","t":0.8,"v":0.18},{"series":"PDMS_5","t":0.91,"v":0.27},{"series":"PDMS_5","t":1.03,"v":0.18},{"series":"PDMS_5","t":1.16,"v":0.17},{"series":"PDMS_5","t":1.26,"v":0.27},{"series":"PDMS_5","t":1.35,"v":0.24},{"series":"PDMS_5","t":1.43,"v":0.17},{"series":"PDMS_5","t":1.54,"v":0.18},{"series":"PDMS_5","t":1.62,"v":0.17},{"series":"PDMS_5","t":1.73,"v":0.27},{"series":"PDMS_5","t":1.79,"v":0.28},{"series":"PDMS_5","t":1.86,"v":0.32},{"series":"PDMS_5","t":1.96,"v":0.26},{"series":"PDMS_5","t":2.05,"v":0.18},{"series":"PDMS_5","t":2.17,"v":0.22},{"series":"PDMS_5","t":2.26,"v":0.16},{"series":"PDMS_5","t":2.36,"v":0.22},{"series":"PDMS_5","t":2.45,"v":0.28},{"series":"PDMS_5","t":2.51,"v":0.29},{"series":"PDMS_5","t":2.57,"v":0.26},{"series":"PDMS_5","t":2.65,"v":0.20},{"series":"PDMS_5","t":2.72,"v":0.16},{"series":"PDMS_5","t":2.81,"v":0.20},{"series":"PDMS_5","t":2.87,"v":0.22},{"series":"PDMS_5","t":2.93,"v":0.16},{"series":"PDMS_5","t":3.0,"v":0.07}
]},
"data":{"name":"d"},
"layer":[
{"mark":{"type":"line","strokeWidth":2,"interpolate":"monotone"},
"encoding":{
"x":{"field":"t","type":"quantitative","scale":{"domain":[-4,3],"nice":false,"zero":false},"axis":{"title":"Time [s]","values":[-4,-3,-2,-1,0,1,2,3],"labelExpr":"'' + datum.value","labelPadding":16,"titlePadding":7}},
"y":{"field":"v","type":"quantitative","scale":{"domain":[0,1.8],"nice":false,"zero":false},"axis":{"title":"Absolute average velocity [m/s]","titleFontSize":23,"values":[0,0.2,0.4,0.6,0.8,1,1.2,1.4,1.6,1.8],"labelExpr":"'' + datum.value","labelPadding":16,"titlePadding":5}},
"color":{"field":"series","type":"nominal","scale":{"domain":["Glass_1","Glass_2","Glass_3","Glass_4","Glass_5","PDMS_1","PDMS_2","PDMS_3","PDMS_4","PDMS_5"],"range":["#0072BD","#D95319","#EDB120","#7E2F8E","#77AC30","#4DBEEE","#A2142F","#0072BD","#D95319","#EDB120"]},
"legend":{"title":null,"orient":"top-right","offset":9,"symbolType":"M-3,0H3","symbolSize":144,"symbolStrokeWidth":2,"symbolOffset":12,"labelFontSize":19,"labelColor":"#000000","strokeColor":"#262626","fillColor":"white","padding":4,"rowPadding":5,"labelOffset":13,"labelLimit":200}},
"strokeDash":{"field":"series","type":"nominal","scale":{"domain":["Glass_1","Glass_2","Glass_3","Glass_4","Glass_5","PDMS_1","PDMS_2","PDMS_3","PDMS_4","PDMS_5"],"range":[[9,5],[9,5],[9,5],[9,5],[9,5],[1,0],[1,0],[1,0],[1,0],[1,0]]},
"legend":{"title":null,"orient":"top-right","offset":9,"symbolType":"M-3,0H3","symbolSize":144,"symbolStrokeWidth":2,"symbolOffset":12,"labelFontSize":19,"labelColor":"#000000","strokeColor":"#262626","fillColor":"white","padding":4,"rowPadding":5,"labelOffset":13,"labelLimit":200}}
}},
{"mark":{"type":"rule","color":"#000000","strokeWidth":3},
"encoding":{"x":{"datum":-2,"type":"quantitative","axis":{"orient":"top","labels":false,"title":null,"domain":false,"values":[-4,-3,-2,-1,0,1,2,3]}}}},
{"mark":{"type":"text","align":"left","baseline":"bottom","dy":-3,"fontSize":19,"color":"#262626","text":"×10⁻⁴"},
"encoding":{"x":{"datum":-4,"type":"quantitative","axis":null},"y":{"datum":1.8,"type":"quantitative","axis":{"orient":"right","labels":false,"title":null,"domain":false,"values":[0,0.2,0.4,0.6,0.8,1,1.2,1.4,1.6,1.8]}}}}
],
"resolve":{"axis":{"x":"independent","y":"independent"}}
}
